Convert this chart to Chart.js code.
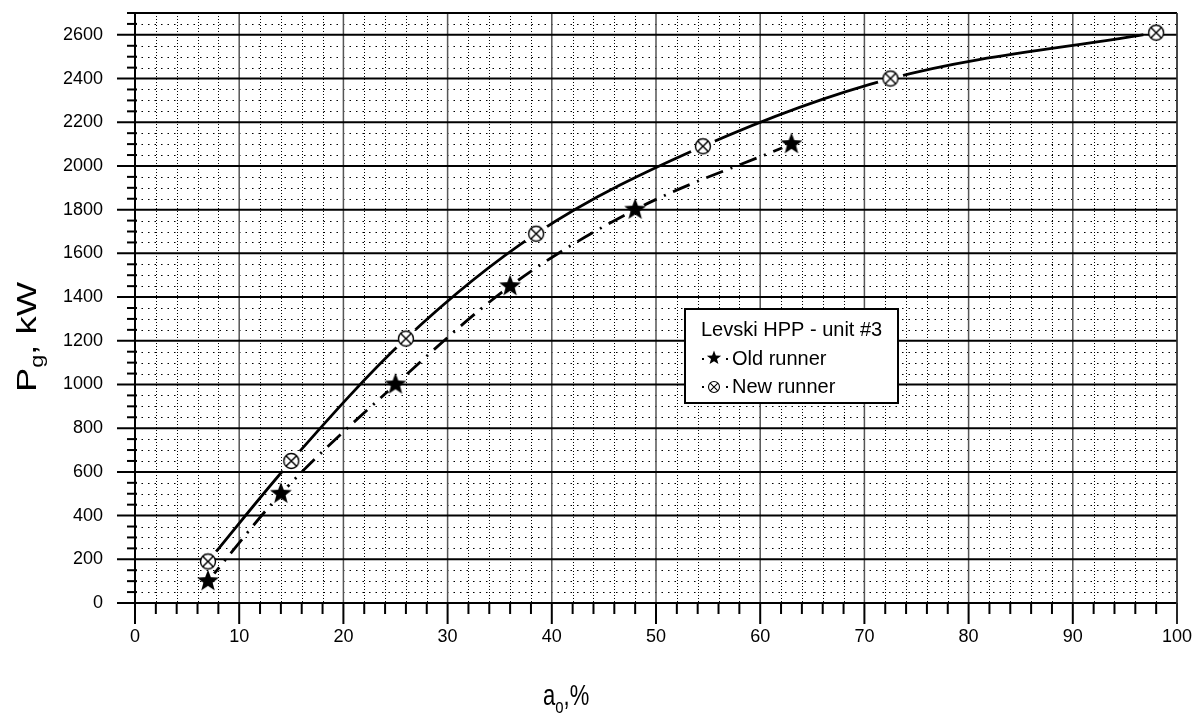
<!DOCTYPE html>
<html><head><meta charset="utf-8">
<script src="https://cdn.jsdelivr.net/npm/chart.js@4.4.1/dist/chart.umd.min.js"></script>
<style>html,body{margin:0;padding:0;background:#fff;}</style>
</head><body>
<canvas id="c" width="1197" height="715"></canvas>
<script>
// ---- data ----
const oldX = [7, 14, 25, 36, 48, 63];
const oldY = [100, 500, 1000, 1450, 1800, 2100];
const newX = [7, 15, 26, 38.5, 54.5, 72.5, 98];
const newY = [190, 650, 1210, 1690, 2090, 2400, 2610];
const xTicks = [0, 10, 20, 30, 40, 50, 60, 70, 80, 90, 100];
const yTicks = [0, 200, 400, 600, 800, 1000, 1200, 1400, 1600, 1800, 2000, 2200, 2400, 2600];
const xMinorStep = 2, yMinorStep = 50;
const xMin = 0, xMax = 100, yMin = 0, yMax = 2700;
const legendTitle = 'Levski HPP - unit #3';
const seriesNames = ['Old runner', 'New runner'];
const FONT = '"Liberation Sans", Arial, sans-serif';

function toXY(xs, ys) { return xs.map((v, i) => ({x: v, y: ys[i]})); }

function drawStar(ctx, cx, cy, R) {
  const r = R * 0.42;
  ctx.beginPath();
  for (let i = 0; i < 10; i++) {
    const rad = i % 2 === 0 ? R : r;
    const ang = -Math.PI / 2 + i * Math.PI / 5;
    const px = cx + rad * Math.cos(ang), py = cy + rad * Math.sin(ang);
    i === 0 ? ctx.moveTo(px, py) : ctx.lineTo(px, py);
  }
  ctx.closePath();
  ctx.fillStyle = '#000';
  ctx.fill();
}
function drawCircleCross(ctx, cx, cy, r, lw) {
  ctx.beginPath();
  ctx.arc(cx, cy, r, 0, Math.PI * 2);
  ctx.fillStyle = '#fff';
  ctx.fill();
  ctx.lineWidth = lw;
  ctx.strokeStyle = '#000';
  ctx.stroke();
  const d = r * Math.SQRT1_2;
  ctx.beginPath();
  ctx.moveTo(cx - d, cy - d); ctx.lineTo(cx + d, cy + d);
  ctx.moveTo(cx + d, cy - d); ctx.lineTo(cx - d, cy + d);
  ctx.stroke();
}
function makeImg(size, fn) {
  const c = document.createElement('canvas');
  c.width = size; c.height = size;
  fn(c.getContext('2d'), size / 2);
  return c;
}
const starImg = makeImg(26, (g, h) => drawStar(g, h, h, 11.5));
const circImg = makeImg(20, (g, h) => drawCircleCross(g, h, h, 7.5, 1.4));

function line(ctx, x1, y1, x2, y2) {
  ctx.beginPath(); ctx.moveTo(x1, y1); ctx.lineTo(x2, y2); ctx.stroke();
}

const bgPlugin = {
  id: 'bg',
  beforeDraw(chart) {
    const ctx = chart.ctx;
    ctx.save(); ctx.fillStyle = '#fff';
    ctx.fillRect(0, 0, chart.width, chart.height);
    ctx.restore();
  }
};

const gridPlugin = {
  id: 'grid',
  beforeDatasetsDraw(chart) {
    const {ctx, chartArea: a, scales: {x, y}} = chart;
    ctx.save();
    ctx.strokeStyle = '#000';
    ctx.lineWidth = 1;
    ctx.setLineDash([1.5, 5]);
    for (let v = yMin; v <= yMax; v += yMinorStep) {
      if (yTicks.includes(v) || v === yMax) continue;
      const py = Math.round(y.getPixelForValue(v)) + 0.5;
      line(ctx, a.left, py, a.right, py);
    }
    ctx.setLineDash([1, 2]);
    for (let v = xMin; v <= xMax; v += xMinorStep) {
      if (xTicks.includes(v)) continue;
      const px = Math.round(x.getPixelForValue(v)) + 0.5;
      line(ctx, px, a.top, px, a.bottom);
    }
    ctx.setLineDash([]);
    ctx.strokeStyle = '#555';
    ctx.lineWidth = 1.5;
    xTicks.forEach(v => {
      const px = x.getPixelForValue(v);
      line(ctx, px, a.top, px, a.bottom);
    });
    ctx.strokeStyle = '#000';
    ctx.lineWidth = 2;
    yTicks.forEach(v => {
      const py = y.getPixelForValue(v);
      line(ctx, a.left - 18, py, a.right, py);
    });
    ctx.restore();
  },
  afterDatasetsDraw(chart) {
    const {ctx, chartArea: a, scales: {x, y}} = chart;
    ctx.save();
    ctx.strokeStyle = '#000';
    ctx.lineWidth = 2;
    for (let v = yMin; v <= yMax; v += yMinorStep) {
      if (yTicks.includes(v)) continue;
      const py = y.getPixelForValue(v);
      line(ctx, a.left - 8, py, a.left + 2, py);
    }
    for (let v = xMin; v <= xMax; v += xMinorStep) {
      const px = x.getPixelForValue(v);
      line(ctx, px, a.bottom, px, a.bottom + (xTicks.includes(v) ? 21 : 11));
    }
    line(ctx, a.left, a.top, a.right, a.top);
    line(ctx, a.left, a.top - 1, a.left, a.bottom + 1);
    line(ctx, a.left - 18, a.bottom, a.right, a.bottom);
    ctx.lineWidth = 1.5;
    ctx.strokeStyle = '#333';
    line(ctx, a.right, a.top, a.right, a.bottom + 21);
    ctx.restore();
  },
  afterDraw(chart) {
    const ctx = chart.ctx;
    ctx.save();
    ctx.fillStyle = '#fff';
    ctx.fillRect(685, 309, 213, 94);
    ctx.strokeStyle = '#000';
    ctx.lineWidth = 2;
    ctx.strokeRect(685, 309, 213, 94);
    ctx.fillStyle = '#000';
    ctx.textBaseline = 'alphabetic';
    ctx.textAlign = 'left';
    ctx.font = '20px ' + FONT;
    ctx.fillText(legendTitle, 701, 336);
    ctx.fillText(seriesNames[0], 732, 365);
    ctx.fillText(seriesNames[1], 732, 393);
    ctx.fillRect(702, 358, 2, 2);
    ctx.fillRect(726, 358, 2, 2);
    drawStar(ctx, 714, 358, 7.5);
    ctx.fillStyle = '#000';
    ctx.fillRect(702, 386, 2, 2);
    ctx.fillRect(726, 386, 2, 2);
    drawCircleCross(ctx, 714, 387, 5.5, 1.1);

    ctx.fillStyle = '#000';
    ctx.translate(36, 392);
    ctx.rotate(-Math.PI / 2);
    ctx.scale(1.3, 1);
    ctx.font = '28px ' + FONT;
    ctx.fillText('P', 0, 0);
    let w = ctx.measureText('P').width;
    ctx.font = '18px ' + FONT;
    ctx.fillText('g', w, 7);
    w += ctx.measureText('g').width;
    ctx.font = '28px ' + FONT;
    ctx.fillText(', kW', w, 0);
    ctx.setTransform(1, 0, 0, 1, 0, 0);

    ctx.translate(543, 705);
    ctx.scale(1, 1.3);
    ctx.font = '22px ' + FONT;
    ctx.fillText('a', 0, 0);
    w = ctx.measureText('a').width;
    ctx.font = '15px ' + FONT;
    ctx.fillText('o', w, 6);
    w += ctx.measureText('o').width;
    ctx.font = '22px ' + FONT;
    ctx.fillText(',%', w, 0);
    ctx.restore();
  }
};

const gapPlugin = {
  id: 'gaps',
  beforeDatasetDraw(chart, args) {
    const ds = chart.data.datasets[args.index];
    if (!ds.gapR) return;
    const ctx = chart.ctx;
    const meta = chart.getDatasetMeta(args.index);
    ctx.save();
    ctx.beginPath();
    ctx.rect(0, 0, chart.width, chart.height);
    meta.data.forEach(p => {
      ctx.moveTo(p.x + ds.gapR, p.y);
      ctx.arc(p.x, p.y, ds.gapR, 0, Math.PI * 2);
    });
    ctx.clip('evenodd');
  },
  afterDatasetDraw(chart, args) {
    const ds = chart.data.datasets[args.index];
    if (!ds.gapR) return;
    chart.ctx.restore();
  }
};

const tickFont = {family: FONT, size: 18};

new Chart(document.getElementById('c'), {
  type: 'scatter',
  data: {
    datasets: [
      {label: seriesNames[0] + ' pts', data: toXY(oldX, oldY), pointStyle: starImg, pointRadius: 10, showLine: false},
      {label: seriesNames[1] + ' pts', data: toXY(newX, newY), pointStyle: circImg, pointRadius: 8, showLine: false},
      {label: seriesNames[0], data: toXY(oldX, oldY), showLine: true, pointRadius: 0, borderColor: '#000',
       borderWidth: 2.8, borderDash: [18, 8, 2, 8], cubicInterpolationMode: 'monotone', gapR: 10},
      {label: seriesNames[1], data: toXY(newX, newY), showLine: true, pointRadius: 0, borderColor: '#000',
       borderWidth: 2.8, cubicInterpolationMode: 'monotone', gapR: 13}
    ]
  },
  options: {
    responsive: false,
    animation: false,
    devicePixelRatio: 1,
    layout: {padding: {left: 0, right: 20, top: 13, bottom: 0}},
    plugins: {legend: {display: false}, tooltip: {enabled: false}},
    events: [],
    scales: {
      x: {
        type: 'linear', min: xMin, max: xMax,
        afterBuildTicks: s => { s.ticks = xTicks.map(v => ({value: v})); },
        afterFit: s => { s.height = 112; s.paddingLeft = 0; s.paddingRight = 0; },
        ticks: {font: tickFont, color: '#000', padding: 23, maxRotation: 0, autoSkip: false,
                callback: v => String(v)},
        grid: {display: false, drawTicks: false},
        border: {display: false}
      },
      y: {
        type: 'linear', min: yMin, max: yMax,
        afterBuildTicks: s => { s.ticks = yTicks.map(v => ({value: v})); },
        afterFit: s => { s.width = 135; s.paddingTop = 0; s.paddingBottom = 0; },
        ticks: {font: tickFont, color: '#000', padding: 32, autoSkip: false,
                callback: v => String(v)},
        grid: {display: false, drawTicks: false},
        border: {display: false}
      }
    }
  },
  plugins: [bgPlugin, gridPlugin, gapPlugin]
});
</script>
</body></html>
